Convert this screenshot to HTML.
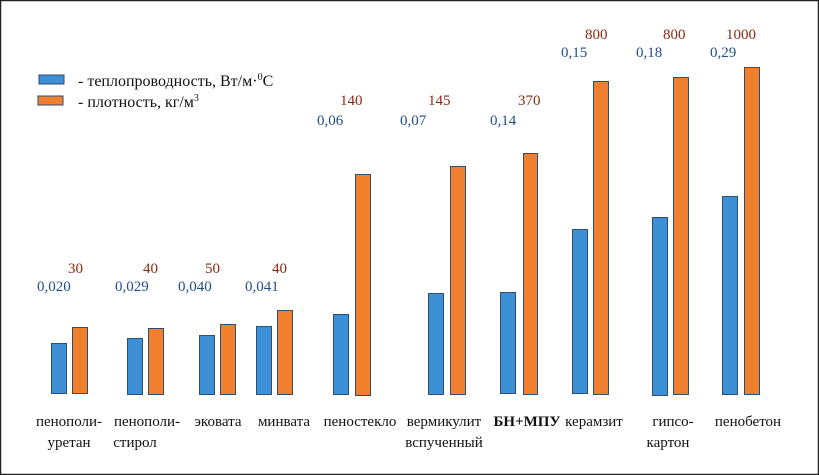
<!DOCTYPE html>
<html><head><meta charset="utf-8"><style>
html,body{margin:0;padding:0;background:#fff}
svg{display:block}
text{font-family:"Liberation Serif","DejaVu Serif",serif;font-size:15px}
.b{fill:#1f4e8c}.o{fill:#8b2a10}.k{fill:#111;font-size:16px}
</style></head><body>
<svg width="819" height="475" viewBox="0 0 819 475" xmlns="http://www.w3.org/2000/svg">
<rect x="0.5" y="0.5" width="818" height="474" fill="#fff" stroke="#222" stroke-width="1.5"/>
<g stroke="#2e4e72" stroke-width="1">
<rect x="39" y="75" width="25" height="9" fill="#3d8fd6"/>
<rect x="38" y="96" width="25" height="9" fill="#f07f2e"/>
</g>
<text x="78" y="86" class="k">- теплопроводность, Вт/м·<tspan font-size="10" dy="-6">0</tspan><tspan dy="6">С</tspan></text>
<text x="78" y="107" class="k">- плотность, кг/м<tspan font-size="10" dy="-6">3</tspan></text>
<g fill="#3d8fd6" stroke="#2e4e72" stroke-width="1">
<rect x="51.5" y="343.5" width="15" height="50"/>
<rect x="127.5" y="338.5" width="15" height="56"/>
<rect x="199.5" y="335.5" width="15" height="59"/>
<rect x="256.5" y="326.5" width="15" height="68"/>
<rect x="333.5" y="314.5" width="15" height="80"/>
<rect x="428.5" y="293.5" width="15" height="101"/>
<rect x="500.5" y="292.5" width="15" height="101"/>
<rect x="572.5" y="229.5" width="15" height="164"/>
<rect x="652.5" y="217.5" width="15" height="178"/>
<rect x="722.5" y="196.5" width="15" height="198"/>
</g>
<g fill="#f07f2e" stroke="#2e4e72" stroke-width="1">
<rect x="72.5" y="327.5" width="15" height="66"/>
<rect x="148.5" y="328.5" width="15" height="66"/>
<rect x="220.5" y="324.5" width="15" height="70"/>
<rect x="277.5" y="310.5" width="15" height="84"/>
<rect x="355.5" y="174.5" width="15" height="221"/>
<rect x="450.5" y="166.5" width="15" height="228"/>
<rect x="523.5" y="153.5" width="14" height="241"/>
<rect x="593.5" y="81.5" width="15" height="313"/>
<rect x="673.5" y="77.5" width="15" height="317"/>
<rect x="744.5" y="67.5" width="15" height="327"/>
</g>
<g class="o">
<text x="68" y="273">30</text><text x="143" y="273">40</text><text x="205" y="273">50</text><text x="272" y="273">40</text>
<text x="340" y="105">140</text><text x="428" y="105">145</text><text x="518" y="105">370</text>
<text x="585" y="39">800</text><text x="663" y="39">800</text><text x="726" y="39">1000</text>
</g>
<g class="b">
<text x="37" y="291">0,020</text><text x="115" y="291">0,029</text><text x="178" y="291">0,040</text><text x="245" y="291">0,041</text>
<text x="317" y="125">0,06</text><text x="400" y="125">0,07</text><text x="490" y="125">0,14</text>
<text x="561" y="57">0,15</text><text x="636" y="57">0,18</text><text x="710" y="57">0,29</text>
</g>
<g class="k" text-anchor="middle">
<text x="69" y="426">пенополи-</text><text x="69" y="447">уретан</text>
<text x="147" y="426">пенополи-</text><text x="135" y="447">стирол</text>
<text x="218" y="426">эковата</text>
<text x="284" y="426">минвата</text>
<text x="360" y="426">пеностекло</text>
<text x="444" y="426">вермикулит</text><text x="444" y="447">вспученный</text>
<text x="527" y="426" font-weight="bold">БН+МПУ</text>
<text x="594" y="426">керамзит</text>
<text x="673" y="426">гипсо-</text><text x="668" y="447">картон</text>
<text x="748" y="426">пенобетон</text>
</g>
</svg>
</body></html>
